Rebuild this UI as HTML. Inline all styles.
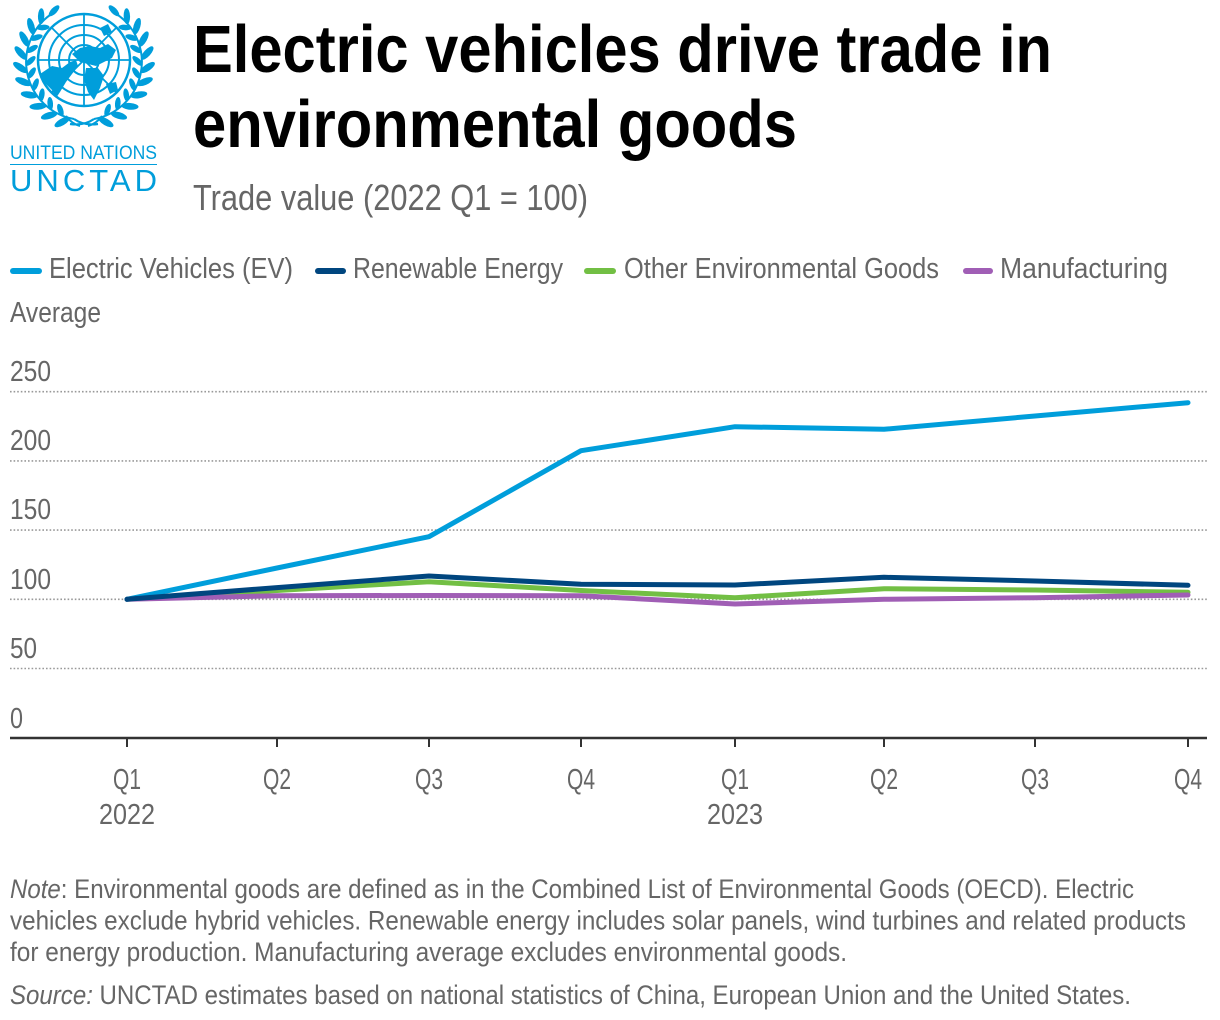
<!DOCTYPE html>
<html>
<head>
<meta charset="utf-8">
<style>
html,body{margin:0;padding:0;background:#fff;}
svg{display:block;}
text{font-family:"Liberation Sans Narrow","Liberation Sans",sans-serif;}
.t{font-family:"Liberation Sans",sans-serif;font-weight:bold;fill:#000;}
.g{fill:#666;}
</style>
</head>
<body>
<svg width="1220" height="1020" viewBox="0 0 1220 1020" xmlns="http://www.w3.org/2000/svg">
<rect width="1220" height="1020" fill="#fff"/>

<!-- UN emblem -->
<g fill="none" stroke="#009edb">
  <circle cx="84" cy="60" r="46" stroke-width="2.5"/>
  <circle cx="84" cy="60" r="35" stroke-width="2"/>
  <circle cx="84" cy="60" r="25" stroke-width="2"/>
  <circle cx="84" cy="60" r="15" stroke-width="2"/>
  <g stroke-width="1.8">
    <line x1="84" y1="14" x2="84" y2="106"/>
    <line x1="38" y1="60" x2="130" y2="60"/>
    <line x1="51.5" y1="27.5" x2="116.5" y2="92.5"/>
    <line x1="116.5" y1="27.5" x2="51.5" y2="92.5"/>
  </g>
</g>
<g fill="#009edb">
  <path d="M40 74 L52 66 L62 68 L70 62 L76 60 L78 66 L72 74 L66 82 L60 92 L56 98 L52 90 L46 84 Z"/>
  <path d="M72 54 L80 48 L90 46 L100 48 L108 44 L116 50 L112 58 L104 62 L96 66 L88 64 L80 62 Z"/>
  <path d="M86 68 L98 68 L104 76 L100 88 L94 100 L88 92 L84 80 Z"/>
  <path d="M106 84 L116 82 L118 90 L110 94 Z"/>
  <path d="M100 28 L108 24 L112 32 L104 36 Z"/>
</g>
<g id="wl" fill="#009edb" stroke="none">
  <path d="M74 119 A58 58 0 0 1 50.7 14.5" fill="none" stroke="#009edb" stroke-width="2"/>
  <g transform="translate(84 62)">
    <ellipse rx="8.5" ry="3.4" transform="rotate(105) translate(58 0) rotate(45) translate(8 0)"/>
    <ellipse rx="8.5" ry="3.4" transform="rotate(118) translate(58 0) rotate(45) translate(8 0)"/>
    <ellipse rx="8.5" ry="3.4" transform="rotate(131) translate(58 0) rotate(45) translate(8 0)"/>
    <ellipse rx="8.5" ry="3.4" transform="rotate(144) translate(58 0) rotate(45) translate(8 0)"/>
    <ellipse rx="8.5" ry="3.4" transform="rotate(157) translate(58 0) rotate(45) translate(8 0)"/>
    <ellipse rx="8.5" ry="3.4" transform="rotate(170) translate(58 0) rotate(45) translate(8 0)"/>
    <ellipse rx="8.5" ry="3.4" transform="rotate(183) translate(58 0) rotate(45) translate(8 0)"/>
    <ellipse rx="8.5" ry="3.4" transform="rotate(196) translate(58 0) rotate(45) translate(8 0)"/>
    <ellipse rx="8.5" ry="3.4" transform="rotate(209) translate(58 0) rotate(45) translate(8 0)"/>
    <ellipse rx="8" ry="3.2" transform="rotate(222) translate(58 0) rotate(50) translate(7 0)"/>
    <ellipse rx="7" ry="3" transform="rotate(234) translate(58 0) rotate(80) translate(6 0)"/>
    <ellipse rx="6.5" ry="2.8" transform="rotate(112) translate(58 0) rotate(140) translate(6 0)"/>
    <ellipse rx="6.5" ry="2.8" transform="rotate(125) translate(58 0) rotate(140) translate(6 0)"/>
    <ellipse rx="6.5" ry="2.8" transform="rotate(138) translate(58 0) rotate(140) translate(6 0)"/>
    <ellipse rx="6.5" ry="2.8" transform="rotate(151) translate(58 0) rotate(140) translate(6 0)"/>
    <ellipse rx="6.5" ry="2.8" transform="rotate(164) translate(58 0) rotate(140) translate(6 0)"/>
    <ellipse rx="6.5" ry="2.8" transform="rotate(177) translate(58 0) rotate(140) translate(6 0)"/>
    <ellipse rx="6.5" ry="2.8" transform="rotate(190) translate(58 0) rotate(140) translate(6 0)"/>
    <ellipse rx="6.5" ry="2.8" transform="rotate(203) translate(58 0) rotate(140) translate(6 0)"/>
    <ellipse rx="6.5" ry="2.8" transform="rotate(216) translate(58 0) rotate(140) translate(6 0)"/>
  </g>
  <path d="M74 119 Q84 126 98 124" fill="none" stroke="#009edb" stroke-width="2.2"/>
  <path d="M66 116 Q72 124 80 126" fill="none" stroke="#009edb" stroke-width="2"/>
</g>
<g transform="translate(168 0) scale(-1 1)">
  <use href="#wl"/>
</g>
<text x="10" y="159" font-size="19" fill="#009edb" textLength="147" lengthAdjust="spacingAndGlyphs">UNITED NATIONS</text>
<line x1="10" y1="164.5" x2="157" y2="164.5" stroke="#009edb" stroke-width="1"/>
<text x="10" y="191" font-size="31" fill="#009edb" textLength="147" lengthAdjust="spacing">UNCTAD</text>

<!-- Title -->
<text class="t" x="193" y="72" font-size="67" textLength="859" lengthAdjust="spacingAndGlyphs">Electric vehicles drive trade in</text>
<text class="t" x="193" y="147" font-size="67" textLength="604" lengthAdjust="spacingAndGlyphs">environmental goods</text>
<text class="g" x="193" y="210" font-size="36" textLength="395" lengthAdjust="spacingAndGlyphs">Trade value (2022 Q1 = 100)</text>

<!-- Legend -->
<g stroke-width="6" stroke-linecap="round">
  <line x1="13" y1="271" x2="39" y2="271" stroke="#009edb"/>
  <line x1="318" y1="271" x2="343" y2="271" stroke="#00467f"/>
  <line x1="587" y1="271" x2="613" y2="271" stroke="#72bf44"/>
  <line x1="966" y1="271" x2="990" y2="271" stroke="#a05eb5"/>
</g>
<g class="g" font-size="29">
  <text x="49" y="278" textLength="244" lengthAdjust="spacingAndGlyphs">Electric Vehicles (EV)</text>
  <text x="353" y="278" textLength="210" lengthAdjust="spacingAndGlyphs">Renewable Energy</text>
  <text x="624" y="278" textLength="315" lengthAdjust="spacingAndGlyphs">Other Environmental Goods</text>
  <text x="1000" y="278" textLength="168" lengthAdjust="spacingAndGlyphs">Manufacturing</text>
  <text x="10" y="322" textLength="91" lengthAdjust="spacingAndGlyphs">Average</text>
</g>

<!-- Gridlines -->
<g stroke="#999" stroke-width="1.6" stroke-dasharray="1.6 2">
  <line x1="10" y1="391.7" x2="1207" y2="391.7"/>
  <line x1="10" y1="460.9" x2="1207" y2="460.9"/>
  <line x1="10" y1="530.1" x2="1207" y2="530.1"/>
  <line x1="10" y1="599.3" x2="1207" y2="599.3"/>
  <line x1="10" y1="668.5" x2="1207" y2="668.5"/>
</g>

<!-- Y labels -->
<g class="g" font-size="29">
  <text x="10" y="381" textLength="41" lengthAdjust="spacingAndGlyphs">250</text>
  <text x="10" y="450" textLength="41" lengthAdjust="spacingAndGlyphs">200</text>
  <text x="10" y="519" textLength="41" lengthAdjust="spacingAndGlyphs">150</text>
  <text x="10" y="589" textLength="41" lengthAdjust="spacingAndGlyphs">100</text>
  <text x="10" y="658" textLength="27" lengthAdjust="spacingAndGlyphs">50</text>
  <text x="10" y="728" textLength="13" lengthAdjust="spacingAndGlyphs">0</text>
</g>

<!-- Axis -->
<line x1="10" y1="738" x2="1207" y2="738" stroke="#333" stroke-width="2.5"/>
<g stroke="#333" stroke-width="2">
  <line x1="127" y1="738" x2="127" y2="747"/>
  <line x1="277" y1="738" x2="277" y2="747"/>
  <line x1="429" y1="738" x2="429" y2="747"/>
  <line x1="581" y1="738" x2="581" y2="747"/>
  <line x1="735" y1="738" x2="735" y2="747"/>
  <line x1="884" y1="738" x2="884" y2="747"/>
  <line x1="1035" y1="738" x2="1035" y2="747"/>
  <line x1="1188" y1="738" x2="1188" y2="747"/>
</g>
<g class="g" font-size="29">
  <text x="113" y="789" textLength="28" lengthAdjust="spacingAndGlyphs">Q1</text>
  <text x="263" y="789" textLength="28" lengthAdjust="spacingAndGlyphs">Q2</text>
  <text x="415" y="789" textLength="28" lengthAdjust="spacingAndGlyphs">Q3</text>
  <text x="567" y="789" textLength="28" lengthAdjust="spacingAndGlyphs">Q4</text>
  <text x="721" y="789" textLength="28" lengthAdjust="spacingAndGlyphs">Q1</text>
  <text x="870" y="789" textLength="28" lengthAdjust="spacingAndGlyphs">Q2</text>
  <text x="1021" y="789" textLength="28" lengthAdjust="spacingAndGlyphs">Q3</text>
  <text x="1174" y="789" textLength="28" lengthAdjust="spacingAndGlyphs">Q4</text>
  <text x="99" y="824" textLength="56" lengthAdjust="spacingAndGlyphs">2022</text>
  <text x="707" y="824" textLength="56" lengthAdjust="spacingAndGlyphs">2023</text>
</g>

<!-- Series -->
<g fill="none" stroke-width="5" stroke-linecap="round" stroke-linejoin="round">
  <polyline stroke="#72bf44" points="127,599.3 277,590.5 429,581.7 581,590.5 735,597.7 884,588.7 1035,590 1188,592.3"/>
  <polyline stroke="#a05eb5" points="127,599.3 277,595.7 429,595.5 581,595.7 735,604 884,599.3 1035,597.7 1188,595"/>
  <polyline stroke="#009edb" points="127,599.3 277,568 429,536.7 581,450.7 735,426.7 884,429.3 1035,416 1188,402.7"/>
  <polyline stroke="#00467f" points="127,599.3 277,587.6 429,576 581,584.3 735,585 884,577.3 1035,581 1188,585.3"/>
</g>

<!-- Notes -->
<g class="g" font-size="27">
  <text x="10" y="898" textLength="1124" lengthAdjust="spacingAndGlyphs"><tspan font-style="italic">Note</tspan>: Environmental goods are defined as in the Combined List of Environmental Goods (OECD). Electric</text>
  <text x="10" y="929.5" textLength="1176" lengthAdjust="spacingAndGlyphs">vehicles exclude hybrid vehicles. Renewable energy includes solar panels, wind turbines and related products</text>
  <text x="10" y="961" textLength="837" lengthAdjust="spacingAndGlyphs">for energy production. Manufacturing average excludes environmental goods.</text>
  <text x="10" y="1004" textLength="1121" lengthAdjust="spacingAndGlyphs"><tspan font-style="italic">Source:</tspan> UNCTAD estimates based on national statistics of China, European Union and the United States.</text>
</g>
</svg>
</body>
</html>
